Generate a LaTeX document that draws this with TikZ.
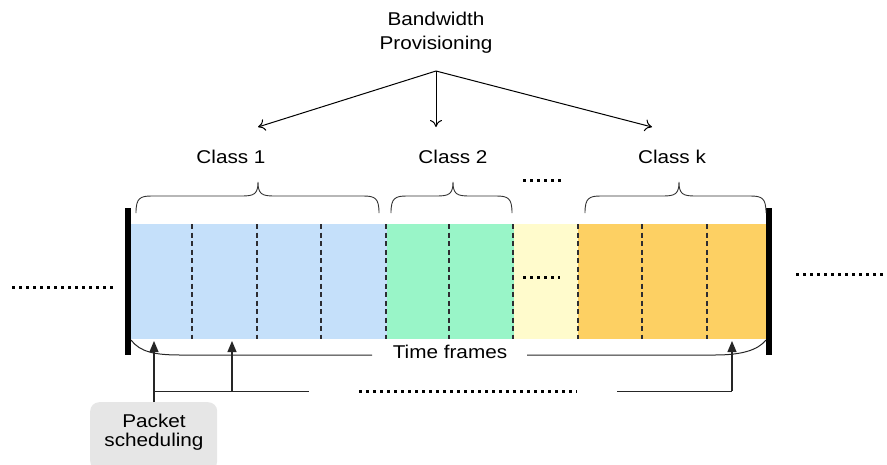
\documentclass[tikz,border=0pt]{standalone}
\usepackage{fontspec}
\setmainfont[FakeStretch=1.12]{Liberation Sans}
\usetikzlibrary{arrows.meta}
\definecolor{cblue}{RGB}{197,224,250}
\definecolor{cgreen}{RGB}{153,245,200}
\definecolor{cyellow}{RGB}{255,251,204}
\definecolor{corange}{RGB}{253,208,99}
\definecolor{cbox}{RGB}{230,230,230}
\definecolor{cdash}{RGB}{45,45,50}
\tikzset{
  lbl/.style={font=\fontsize{18.5}{24}\selectfont, inner sep=0pt, align=center},
  framesep/.style={draw=cdash, line width=1.6pt, dash pattern=on 5pt off 3.5pt},
  edgebar/.style={line width=6pt, black},
  brc/.style={draw=black!80, line width=0.9pt},
  dots/.style={line width=3pt, dash pattern=on 3pt off 4pt},
  split/.style={draw=black, line width=1pt, -{To[length=7pt,width=12pt]}},
  sched/.style={draw=black!85, line width=1.2pt, -{Triangle[length=11pt,width=9pt]}},
  thin/.style={draw=black!85, line width=1pt},
}
\begin{document}
\begin{tikzpicture}[x=1pt,y=-1pt]
\useasboundingbox (0,0) rectangle (887,464);

% time frame bands
\fill[cblue]   (131,224) rectangle (387,339);
\fill[cgreen]  (387,224) rectangle (514,339);
\fill[cyellow] (514,224) rectangle (578,339);
\fill[corange] (578,224) rectangle (767,339);

% frame boundaries
\foreach \x in {192,257,321,386,449,513,578,642,707}
  \draw[framesep] (\x,224) -- (\x,339);

% outer limits of the scheduling window
\coordinate (lt) at (128,208); \coordinate (lb) at (128,355);
\coordinate (rt) at (769,208); \coordinate (rb) at (769,355);
\draw[edgebar] (lt) -- (lb);
\draw[edgebar] (rt) -- (rb);

% continuation dots
\draw[dots] (12,287) -- (113,287);
\draw[dots] (796,274) -- (887,274);
\draw[dots] (523,277) -- (560,277);
\draw[dots] (523,180) -- (563,180);
\draw[dots] (359,391) -- (577,391);

% bandwidth provisioning
\node[lbl] (bw) at (436,33) {Bandwidth\\Provisioning};
\coordinate (src) at (436,71);
\coordinate (t1) at (258,127);
\coordinate (t2) at (436,127);
\coordinate (tk) at (652,127);
\draw[split] (src) -- (t1);
\draw[split] (src) -- (t2);
\draw[split] (src) -- (tk);

% class labels
\node[lbl] (c1) at (231,157) {Class 1};
\node[lbl] (c2) at (453,157) {Class 2};
\node[lbl] (ck) at (672,157) {Class k};

% braces over each class
\foreach \a/\m/\b in {136/258/379, 391/453/512, 585/679/766}{
  \draw[brc] (\a,213) .. controls (\a,198) and (\a+4,196) .. (\a+16,196)
    -- (\m-16,196) .. controls (\m-4,196) and (\m,194) .. (\m,182)
    .. controls (\m,194) and (\m+4,196) .. (\m+16,196)
    -- (\b-16,196) .. controls (\b-4,196) and (\b,198) .. (\b,213);
}

% time frames span
\node[lbl] (tf) at (450,352) {Time frames};
\coordinate (tfl) at (372,355);
\coordinate (tfr) at (527,355);
\draw[thin] (131,340) .. controls (140,352) and (155,355) .. (180,355) -- (tfl);
\draw[thin] (tfr) -- (715,355) .. controls (742,355) and (758,350) .. (766,340);

% packet scheduling
\node[lbl, fill=cbox, rounded corners=9pt, minimum width=127pt, minimum height=68pt,
      anchor=north west] (ps) at (90,402) {};
\node[lbl] at (154,421) {Packet};
\node[lbl] at (154,442) {scheduling};
\coordinate (a1) at (154,341);
\coordinate (a2) at (232,341);
\coordinate (ak) at (732,341);
\coordinate (h1) at (232,391);
\coordinate (h2) at (309,391);
\coordinate (h3) at (617,391);
\coordinate (h4) at (732,391);
\draw[sched] (ps.north -| a1) -- (a1);
\draw[sched] (h1) -- (a2);
\draw[thin] (154,391) -- (h2);
\draw[thin] (h3) -- (h4);
\draw[sched] (h4) -- (ak);
\end{tikzpicture}
\end{document}
